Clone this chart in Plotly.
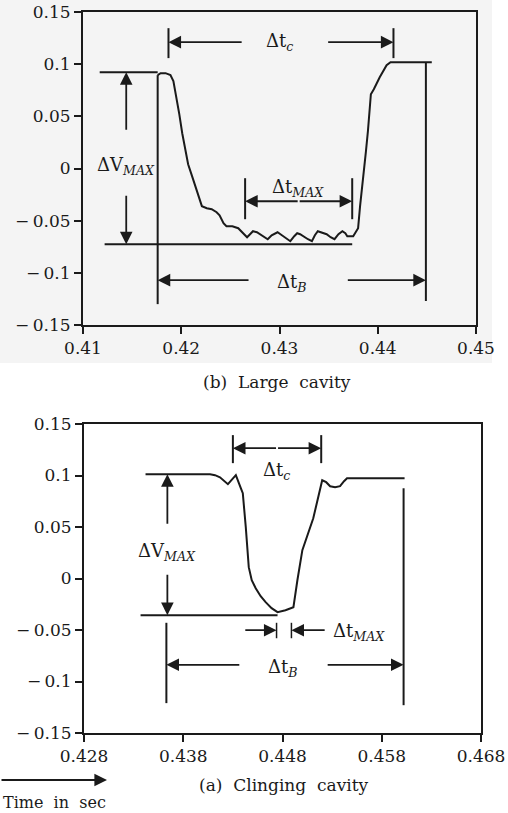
import plotly.graph_objects as go

# ---------------- data ----------------
# (b) Large cavity  (time in s, signal)
large_t = [0.4176, 0.4179, 0.4184, 0.4189, 0.4192, 0.4195, 0.4198, 0.4201, 0.4204, 0.4207,
           0.4211, 0.4216, 0.4221, 0.4226, 0.4231, 0.4236, 0.4239, 0.4243, 0.4246, 0.4252,
           0.4258, 0.4263, 0.4267, 0.4270, 0.4273, 0.4277, 0.4280, 0.4284, 0.4288, 0.4292,
           0.4298, 0.4301, 0.4304, 0.4308, 0.4311, 0.4315, 0.4318, 0.4321, 0.4324, 0.4329,
           0.4333, 0.4336, 0.4339, 0.4343, 0.4348, 0.4352, 0.4356, 0.4360, 0.4364, 0.4367,
           0.4369, 0.4375, 0.4380, 0.4382, 0.4385, 0.4388, 0.4390, 0.4393, 0.4396, 0.4402,
           0.4409, 0.4413, 0.4455]
large_v = [0.0895, 0.0914, 0.0914, 0.0895, 0.0837, 0.0693, 0.0521, 0.0338, 0.0185, 0.0041,
           -0.0073, -0.0218, -0.0361, -0.0381, -0.0390, -0.0419, -0.0448, -0.0524, -0.0553, -0.0553,
           -0.0572, -0.0620, -0.0659, -0.0630, -0.0601, -0.0611, -0.0630, -0.0659, -0.0678, -0.0640,
           -0.0611, -0.0630, -0.0649, -0.0678, -0.0697, -0.0649, -0.0620, -0.0630, -0.0649, -0.0678,
           -0.0697, -0.0640, -0.0601, -0.0611, -0.0630, -0.0659, -0.0678, -0.0630, -0.0601, -0.0620,
           -0.0649, -0.0649, -0.0572, -0.0361, -0.0122, 0.0166, 0.0358, 0.0712, 0.0760, 0.0875,
           0.0990, 0.1019, 0.1019]

# (a) Clinging cavity
cling_t = [0.4342, 0.4407, 0.4412, 0.4417, 0.4425, 0.4433, 0.4438, 0.4440, 0.4443, 0.4446,
           0.4449, 0.4453, 0.4458, 0.4463, 0.4469, 0.4475, 0.4483, 0.4491, 0.4495, 0.4500,
           0.4511, 0.4520, 0.4524, 0.4528, 0.4533, 0.4538, 0.4542, 0.4545, 0.4603]
cling_v = [0.1013, 0.1013, 0.1003, 0.0983, 0.0916, 0.1003, 0.0877, 0.0828, 0.0498, 0.0110,
           -0.0017, -0.0094, -0.0172, -0.0230, -0.0288, -0.0327, -0.0308, -0.0279, -0.0017, 0.0275,
           0.0585, 0.0954, 0.0935, 0.0896, 0.0886, 0.0896, 0.0945, 0.0974, 0.0974]

# tick labels
y_vals = [0.15, 0.1, 0.05, 0, -0.05, -0.1, -0.15]
y_text = ["0.15", "0.1", "0.05", "0", "\u2212\u20090.05", "\u2212\u20090.1", "\u2212\u20090.15"]
top_x_vals = [0.41, 0.42, 0.43, 0.44, 0.45]
top_x_text = ["0.41", "0.42", "0.43", "0.44", "0.45"]
bot_x_vals = [0.428, 0.438, 0.448, 0.458, 0.468]
bot_x_text = ["0.428", "0.438", "0.448", "0.458", "0.468"]

# measurement markers (data coordinates)
# large cavity
L_vmax_top, L_vmax_base = 0.0923, -0.0726
L_vline_x = 0.4144
L_tc = (0.4187, 0.4416, 0.1211)
L_tmax = (0.4265, 0.4374, -0.0314)
L_tb = (0.4176, 0.4449, -0.107)
# clinging cavity
C_vmax_top, C_vmax_base = 0.1013, -0.0356
C_vline_x = 0.4364
C_tc = (0.4430, 0.4519, 0.1265)
C_tmax = (0.4474, 0.4489, -0.0502)
C_tb = (0.4363, 0.4602, -0.0838)

FONT = "DejaVu Serif"
INK = "#1a1a1a"

fig = go.Figure()
fig.add_trace(go.Scatter(x=large_t, y=large_v, mode="lines",
                         line=dict(color=INK, width=2), xaxis="x", yaxis="y",
                         showlegend=False, hoverinfo="skip"))
fig.add_trace(go.Scatter(x=cling_t, y=cling_v, mode="lines",
                         line=dict(color=INK, width=2), xaxis="x2", yaxis="y2",
                         showlegend=False, hoverinfo="skip"))

shapes = []
annotations = []

def seg(xr, yr, x0, y0, x1, y1, w=2):
    shapes.append(dict(type="line", xref=xr, yref=yr, x0=x0, y0=y0, x1=x1, y1=y1,
                       line=dict(color=INK, width=w)))

def arrow(xr, yr, x, y, ax, ay):
    annotations.append(dict(xref=xr, yref=yr, axref=xr, ayref=yr, x=x, y=y, ax=ax, ay=ay,
                            text="", showarrow=True, arrowhead=2, arrowsize=1.4,
                            arrowwidth=1.8, arrowcolor=INK))

def label(xr, yr, x, y, txt, size=18, xanchor="center"):
    annotations.append(dict(xref=xr, yref=yr, x=x, y=y, text=txt, showarrow=False,
                            xanchor=xanchor, yanchor="middle",
                            font=dict(family=FONT, size=size, color=INK)))

# background of the upper (scanned) panel
shapes.append(dict(type="rect", xref="paper", yref="paper", x0=0, x1=492 / 508,
                   y0=(813 - 363) / 813, y1=1, fillcolor="#f4f4f4", line=dict(width=0),
                   layer="below"))

# ---- Large cavity markers ----
seg("x", "y", 0.4117, L_vmax_top, large_t[0], L_vmax_top)
seg("x", "y", 0.4122, L_vmax_base, 0.4374, L_vmax_base)
arrow("x", "y", L_vline_x, L_vmax_top, L_vline_x, 0.0357)
arrow("x", "y", L_vline_x, L_vmax_base, L_vline_x, -0.0248)
label("x", "y", L_vline_x, 0.002, "\u0394V<sub><i>MAX</i></sub>")
# delta t_c
seg("x", "y", L_tc[0], 0.1345, L_tc[0], 0.1058)
seg("x", "y", L_tc[1], 0.1345, L_tc[1], 0.1058)
arrow("x", "y", L_tc[0], L_tc[2], 0.4263, L_tc[2])
arrow("x", "y", L_tc[1], L_tc[2], 0.4348, L_tc[2])
label("x", "y", 0.4300, L_tc[2], "\u0394t<sub><i>c</i></sub>")
# delta t_MAX
seg("x", "y", L_tmax[0], -0.0093, L_tmax[0], -0.0486)
seg("x", "y", L_tmax[1], -0.0093, L_tmax[1], -0.0486)
arrow("x", "y", L_tmax[0], L_tmax[2], 0.4320, L_tmax[2])
arrow("x", "y", L_tmax[1], L_tmax[2], 0.4319, L_tmax[2])
label("x", "y", 0.4319, -0.0185, "\u0394t<sub><i>MAX</i></sub>")
# delta t_B
seg("x", "y", L_tb[0], large_v[0], L_tb[0], -0.130)
seg("x", "y", L_tb[1], 0.1019, L_tb[1], -0.127)
arrow("x", "y", L_tb[0], L_tb[2], 0.4270, L_tb[2])
arrow("x", "y", L_tb[1], L_tb[2], 0.4368, L_tb[2])
label("x", "y", 0.4313, -0.110, "\u0394t<sub><i>B</i></sub>")

# ---- Clinging cavity markers ----
seg("x2", "y2", 0.4337, C_vmax_base, 0.4475, C_vmax_base)
arrow("x2", "y2", C_vline_x, C_vmax_top, C_vline_x, 0.0517)
arrow("x2", "y2", C_vline_x, C_vmax_base, C_vline_x, 0.0051)
label("x2", "y2", C_vline_x, 0.0255, "\u0394V<sub><i>MAX</i></sub>")
# delta t_c
seg("x2", "y2", C_tc[0], 0.1392, C_tc[0], 0.1120)
seg("x2", "y2", C_tc[1], 0.1392, C_tc[1], 0.1120)
arrow("x2", "y2", C_tc[0], C_tc[2], 0.4475, C_tc[2])
arrow("x2", "y2", C_tc[1], C_tc[2], 0.4474, C_tc[2])
label("x2", "y2", 0.4474, 0.1040, "\u0394t<sub><i>c</i></sub>")
# delta t_MAX
seg("x2", "y2", C_tmax[0], -0.043, C_tmax[0], -0.058, w=1.5)
seg("x2", "y2", C_tmax[1], -0.043, C_tmax[1], -0.058, w=1.5)
arrow("x2", "y2", C_tmax[0], C_tmax[2], 0.4441, C_tmax[2])
arrow("x2", "y2", C_tmax[1], C_tmax[2], 0.4524, C_tmax[2])
label("x2", "y2", 0.4529, -0.0515, "\u0394t<sub><i>MAX</i></sub>", xanchor="left")
# delta t_B
seg("x2", "y2", C_tb[0], -0.043, C_tb[0], -0.121)
seg("x2", "y2", C_tb[1], 0.0876, C_tb[1], -0.123)
arrow("x2", "y2", C_tb[0], C_tb[2], 0.4438, C_tb[2])
arrow("x2", "y2", C_tb[1], C_tb[2], 0.4524, C_tb[2])
label("x2", "y2", 0.4480, -0.087, "\u0394t<sub><i>B</i></sub>")

# captions
annotations.append(dict(xref="paper", yref="paper", x=277 / 508, y=(813 - 382) / 813,
                        text="(b)  Large  cavity", showarrow=False, xanchor="center",
                        yanchor="middle", font=dict(family=FONT, size=17, color=INK)))
annotations.append(dict(xref="paper", yref="paper", x=284 / 508, y=(813 - 785) / 813,
                        text="(a)  Clinging  cavity", showarrow=False, xanchor="center",
                        yanchor="middle", font=dict(family=FONT, size=17, color=INK)))
# time arrow
annotations.append(dict(xref="paper", yref="paper", x=107 / 508, y=(813 - 780) / 813,
                        ax=-110, ay=0, text="", showarrow=True, arrowhead=2,
                        arrowsize=1.4, arrowwidth=1.8, arrowcolor=INK))
annotations.append(dict(xref="paper", yref="paper", x=1 / 508, y=(813 - 802) / 813,
                        text="Time  in  sec", showarrow=False, xanchor="left",
                        yanchor="middle", font=dict(family=FONT, size=16, color=INK)))

axis_common = dict(showline=True, linecolor=INK, linewidth=2, mirror=True,
                   ticks="outside", ticklen=7, tickwidth=1.5, tickcolor=INK,
                   showgrid=False, zeroline=False, automargin=False,
                   tickfont=dict(family=FONT, size=17, color=INK))

fig.update_layout(
    template="none",
    width=508, height=813,
    margin=dict(l=0, r=0, t=0, b=0, autoexpand=False),
    paper_bgcolor="white", plot_bgcolor="rgba(0,0,0,0)",
    showlegend=False,
    xaxis=dict(domain=[83 / 508, 476 / 508], range=[0.41, 0.45], anchor="y",
               tickvals=top_x_vals, ticktext=top_x_text, **axis_common),
    yaxis=dict(domain=[(813 - 325) / 813, (813 - 12) / 813], range=[-0.15, 0.15],
               anchor="x", tickvals=y_vals, ticktext=y_text, **axis_common),
    xaxis2=dict(domain=[84 / 508, 481 / 508], range=[0.428, 0.468], anchor="y2",
                tickvals=bot_x_vals, ticktext=bot_x_text, **axis_common),
    yaxis2=dict(domain=[(813 - 733) / 813, (813 - 424) / 813], range=[-0.15, 0.15],
                anchor="x2", tickvals=y_vals, ticktext=y_text, **axis_common),
    shapes=shapes,
    annotations=annotations,
)

fig.write_html("out.html")
